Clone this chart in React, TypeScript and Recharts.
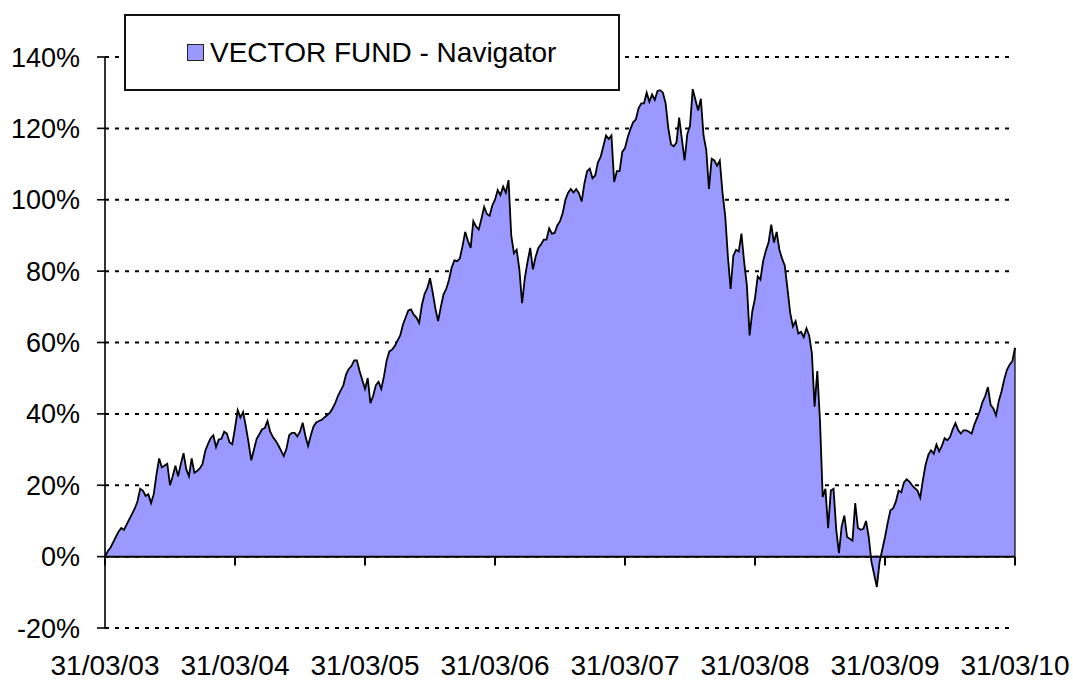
import React from 'react';
import {
  ComposedChart,
  Area,
  XAxis,
  YAxis,
  CartesianGrid,
  ReferenceLine,
  Legend
} from 'recharts';

// Cumulative return of the fund (%), read about once a week (48 readings a year)
// from 31/03/03 to 31/03/10; each array starts at the 31/03 of its year
const returns2003 = [
  0, 1.5, 2.5, 4, 5.5, 7, 8, 7.5, 9, 10.5, 12, 13.5, 15.5, 19, 18.5, 17, 17.5, 15, 17.5, 23, 27.5, 25, 25.5, 26,
  20, 22.5, 25.5, 22.5, 26, 29, 24.5, 22.5, 27.5, 23.5, 24, 24.7, 26, 29.6, 31.5, 33.2, 34, 30.7, 32.8, 33, 35, 34.5, 32, 31.5
];
const returns2004 = [
  36, 41, 39, 40.5, 36.5, 32, 27, 30, 33, 34.3, 35.7, 36, 38, 35, 33.5, 32.5, 31.2, 29.7, 28.2, 30.2, 34, 34.7, 34.7, 33.7,
  35, 37.5, 33.8, 31, 34, 36.5, 37.6, 38, 38.3, 39, 39.6, 40.3, 41.5, 43, 45, 46.5, 48, 51, 52.6, 53.4, 55, 55, 52, 49.5
];
const returns2005 = [
  47, 50, 43, 45, 48, 49, 47, 50.5, 55, 57.5, 58, 59, 60.5, 62, 65, 67, 69, 69.3, 67.8, 67, 65.5, 70.5, 73.6, 75.2,
  78, 74, 69.5, 66, 70, 73.5, 75, 77.5, 81, 83, 82.8, 83.5, 87, 91, 88.5, 86.5, 94, 92.5, 91.7, 94.7, 98, 96, 95.5, 98.4
];
const returns2006 = [
  100, 102.7, 101.3, 103.7, 102, 105.5, 90, 85, 86, 80.5, 71, 78, 82.5, 86.5, 80.5, 84, 86.5, 87.5, 88.8, 88.8, 92, 90.5, 90.7, 92.8,
  94, 96.3, 100, 102, 103, 102, 103, 101.8, 99.5, 104.5, 108, 108.7, 106, 106.8, 110.5, 112, 115, 118, 117, 118, 105, 108, 108, 113.4
];
const returns2007 = [
  114.5, 117.5, 119.8, 121.7, 122.5, 125.6, 127, 127, 130, 127.5, 129.5, 128, 130.5, 130.7, 130, 127, 120, 115.5, 115, 116, 123, 117, 111, 118.4,
  120.7, 131, 128, 125, 128.3, 118, 114, 103, 111.5, 111, 109.5, 111, 102, 95.5, 84, 75, 84.3, 86, 85.5, 90.5, 82.5, 76, 62, 68.7
];
const returns2008 = [
  72.4, 78.5, 77.6, 82.8, 85.7, 88, 93, 88, 91, 86, 83.5, 81.5, 75, 68.3, 64.5, 66, 62.5, 63, 61.5, 64, 62, 57, 42, 52,
  38, 16.7, 19, 8, 18.5, 19, 7.5, 1, 8.5, 11.5, 5.5, 5, 4.5, 15, 8, 7.5, 7.8, 10, 5.5, -1.5, -5, -8.5, -1.5, 2
];
const returns2009 = [
  5.5, 9.5, 13, 13.5, 15.4, 18.5, 18, 20.8, 21.7, 21, 20, 19.2, 18.5, 16.5, 21.5, 25.8, 28.5, 29.8, 28.8, 31.4, 29.5, 31, 33.2, 32.6,
  33.5, 35.7, 37.4, 35.5, 34.5, 35.4, 35.4, 35, 34.5, 37, 38.9, 40.8, 43.3, 45, 47.5, 42.5, 41.5, 39.6, 43.6, 46.2, 49.6, 52.3, 53.8, 54.7,
  58.5
];

const dateLabels = ['31/03/03', '31/03/04', '31/03/05', '31/03/06', '31/03/07', '31/03/08', '31/03/09', '31/03/10'];
const yTicks = [-20, 0, 20, 40, 60, 80, 100, 120, 140];
const seriesName = 'VECTOR FUND - Navigator';

const FONT = '"Liberation Sans", Arial, sans-serif';
const FILL = '#9999FF';
const STEPS_PER_YEAR = 48;

const values = [
  ...returns2003,
  ...returns2004,
  ...returns2005,
  ...returns2006,
  ...returns2007,
  ...returns2008,
  ...returns2009
];
const data = values.map((v, i) => ({ t: i, value: v }));
const xTicks = dateLabels.map((_, i) => i * STEPS_PER_YEAR);
const lastT = data[data.length - 1].t;
const lastValue = data[data.length - 1].value;

const LegendBox = () => (
  <div
    style={{
      width: 496,
      height: 77,
      boxSizing: 'border-box',
      border: '2px solid #111',
      background: '#fff',
      display: 'flex',
      alignItems: 'center',
      paddingLeft: 61,
      fontFamily: FONT,
      fontSize: 28,
      color: '#000'
    }}
  >
    <span
      style={{
        display: 'inline-block',
        boxSizing: 'border-box',
        width: 17,
        height: 17,
        background: FILL,
        border: '1.5px solid #222',
        marginRight: 6
      }}
    />
    {seriesName}
  </div>
);

export default function App() {
  return (
    <div style={{ position: 'absolute', left: 0, top: 0, width: 1073, height: 680, background: '#fff' }}>
      <ComposedChart
        width={1073}
        height={680}
        data={data}
        margin={{ top: 57, right: 58, bottom: 7, left: 5 }}
      >
        <CartesianGrid vertical={false} stroke="#000" strokeWidth={2} strokeDasharray="4 6" />
        <XAxis
          dataKey="t"
          type="number"
          domain={[0, lastT]}
          ticks={xTicks}
          tickFormatter={(v: number) => dateLabels[v / STEPS_PER_YEAR]}
          axisLine={false}
          tickLine={false}
          tickSize={0}
          tickMargin={27}
          height={45}
          interval={0}
          tick={{ fill: '#000', fontSize: 28, fontFamily: FONT }}
        />
        <YAxis
          type="number"
          domain={[-20, 140]}
          ticks={yTicks}
          tickFormatter={(v: number) => `${v}%`}
          axisLine={{ stroke: '#000', strokeWidth: 1.6 }}
          tickLine={{ stroke: '#000', strokeWidth: 1.6 }}
          tickSize={8}
          tickMargin={17}
          width={100}
          interval={0}
          tick={{ fill: '#000', fontSize: 27, fontFamily: FONT }}
        />
        <Legend
          layout="horizontal"
          verticalAlign="middle"
          align="center"
          wrapperStyle={{ left: 124, top: 14, width: 496 }}
          content={() => <LegendBox />}
        />
        <Area
          type="linear"
          dataKey="value"
          name={seriesName}
          baseValue={0}
          fill={FILL}
          fillOpacity={1}
          stroke="#000"
          strokeWidth={1.8}
          dot={false}
          activeDot={false}
          isAnimationActive={false}
        />
        <ReferenceLine y={0} stroke="#000" strokeWidth={2} />
        <ReferenceLine
          segment={[{ x: lastT, y: 0 }, { x: lastT, y: lastValue }]}
          stroke="#000"
          strokeWidth={1.2}
        />
        {xTicks.map((t) => (
          <ReferenceLine
            key={t}
            segment={[{ x: t, y: 0 }, { x: t, y: -2.5 }]}
            stroke="#000"
            strokeWidth={2}
          />
        ))}
      </ComposedChart>
    </div>
  );
}
